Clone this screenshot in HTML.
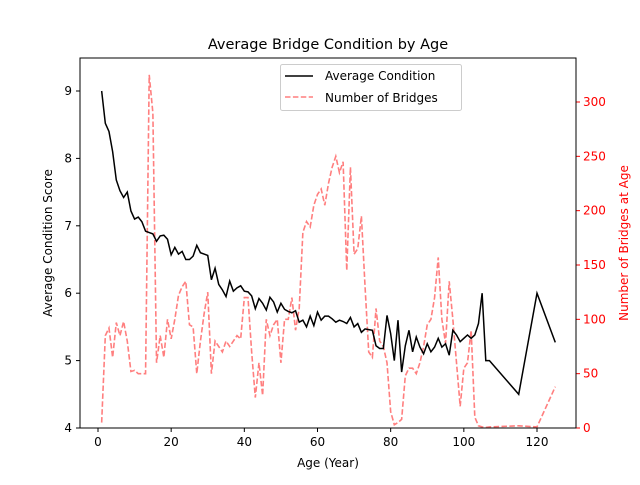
<!DOCTYPE html>
<html><head><meta charset="utf-8"><style>
body{margin:0;background:#fff;font-family:"Liberation Sans","DejaVu Sans",sans-serif}
svg text{font-family:"DejaVu Sans","Liberation Sans",sans-serif}
</style></head><body>
<svg id="c" width="640" height="480"></svg>
<script>
const ages=[1,2,3,4,5,6,7,8,9,10,11,12,13,14,15,16,17,18,19,20,21,22,23,24,25,26,27,28,29,30,31,32,33,34,35,36,37,38,39,40,41,42,43,44,45,46,47,48,49,50,51,52,53,54,55,56,57,58,59,60,61,62,63,64,65,66,67,68,69,70,71,72,73,74,75,76,77,78,79,80,81,82,83,84,85,86,87,88,89,90,91,92,93,94,95,96,97,98,99,100,101,102,103,104,105,106,107,115,120,125];
const condition=[9.0,8.52,8.4,8.1,7.68,7.52,7.42,7.5,7.22,7.1,7.13,7.06,6.92,6.9,6.88,6.77,6.85,6.86,6.8,6.57,6.68,6.58,6.62,6.5,6.5,6.55,6.71,6.6,6.58,6.56,6.2,6.37,6.13,6.05,5.95,6.18,6.03,6.08,6.11,6.03,6.02,5.96,5.77,5.92,5.85,5.75,5.94,5.87,5.72,5.85,5.76,5.73,5.71,5.74,5.57,5.6,5.5,5.66,5.52,5.72,5.6,5.66,5.66,5.62,5.57,5.6,5.58,5.55,5.64,5.5,5.55,5.42,5.47,5.46,5.45,5.22,5.18,5.18,5.67,5.4,5.0,5.6,4.83,5.22,5.45,5.13,5.35,5.2,5.1,5.25,5.13,5.2,5.33,5.2,5.25,5.08,5.45,5.38,5.28,5.33,5.38,5.33,5.38,5.55,6.0,5.0,5.0,4.5,6.0,5.27];
const counts=[5,85,92,65,97,85,98,80,52,53,50,50,50,325,290,60,85,65,100,82,100,122,130,135,95,93,50,80,105,125,50,80,75,70,80,75,80,85,82,120,120,70,28,60,30,100,85,95,100,60,100,100,120,90,110,180,190,185,205,215,220,205,225,240,250,235,245,145,240,160,165,195,130,70,65,110,80,75,60,15,3,5,8,48,55,55,50,60,75,95,100,120,157,100,78,135,100,60,20,55,60,90,10,2,1,0.5,1,2,1,38];
const xTicks=[0,20,40,60,80,100,120];
const yTicks=[4,5,6,7,8,9];
const y2Ticks=[0,50,100,150,200,250,300];
const L=80,R=576,T=58,B=428;
const X=a=>98+(a)*(439/120);
const Y=v=>428-(v-4)*67.4;
const Y2=v=>428-v*(326/300);
const s=document.getElementById('c');const NS='http://www.w3.org/2000/svg';
function el(t,a,txt){const e=document.createElementNS(NS,t);for(const k in a)e.setAttribute(k,a[k]);if(txt!==undefined)e.textContent=txt;s.appendChild(e);return e;}
let e;
e=el('text',{x:328,y:49,'text-anchor':'middle','font-size':14.5},'Average Bridge Condition by Age');


xTicks.forEach(t=>{e=el('line',{x1:X(t),x2:X(t),y1:B,y2:B+4,stroke:'#000'});


e=el('text',{x:X(t),y:B+18,'text-anchor':'middle','font-size':12},t);

});
yTicks.forEach(t=>{e=el('line',{x1:L-4,x2:L,y1:Y(t),y2:Y(t),stroke:'#000'});


e=el('text',{x:L-8,y:Y(t)+4,'text-anchor':'end','font-size':12},t);

});
y2Ticks.forEach(t=>{e=el('line',{x1:R,x2:R+4,y1:Y2(t),y2:Y2(t),stroke:'#f00'});


e=el('text',{x:R+7,y:Y2(t)+4,'font-size':12,fill:'#f00'},t);

});
e=el('text',{x:328,y:467,'text-anchor':'middle','font-size':12},'Age (Year)');


e=el('text',{x:52,y:243,'text-anchor':'middle','font-size':12,transform:'rotate(-90 52 243)'},'Average Condition Score');


e=el('text',{x:628,y:243,'text-anchor':'middle','font-size':12,fill:'#f00',transform:'rotate(-90 628 243)'},'Number of Bridges at Age');


e=el('polyline',{points:ages.map((a,i)=>X(a)+','+Y2(counts[i])).join(' '),fill:'none',stroke:'#ff7f7f','stroke-width':1.6,'stroke-dasharray':'5.5,2.4'});


e=el('polyline',{points:ages.map((a,i)=>X(a)+','+Y(condition[i])).join(' '),fill:'none',stroke:'#000','stroke-width':1.5});


e=el('rect',{x:L,y:T,width:R-L,height:B-T,fill:'none',stroke:'#000','stroke-width':1});


e=el('rect',{x:280.5,y:64.5,width:181,height:46,fill:'#fff','fill-opacity':0.8,stroke:'#ccc',rx:2});


e=el('line',{x1:285,x2:313,y1:76,y2:76,stroke:'#000','stroke-width':1.5});


e=el('text',{x:325,y:80,'font-size':12},'Average Condition');


e=el('line',{x1:285,x2:313,y1:97,y2:97,stroke:'#ff7f7f','stroke-width':1.5,'stroke-dasharray':'5.5,2.4'});


e=el('text',{x:325,y:102,'font-size':12},'Number of Bridges');


</script>
</body></html>
